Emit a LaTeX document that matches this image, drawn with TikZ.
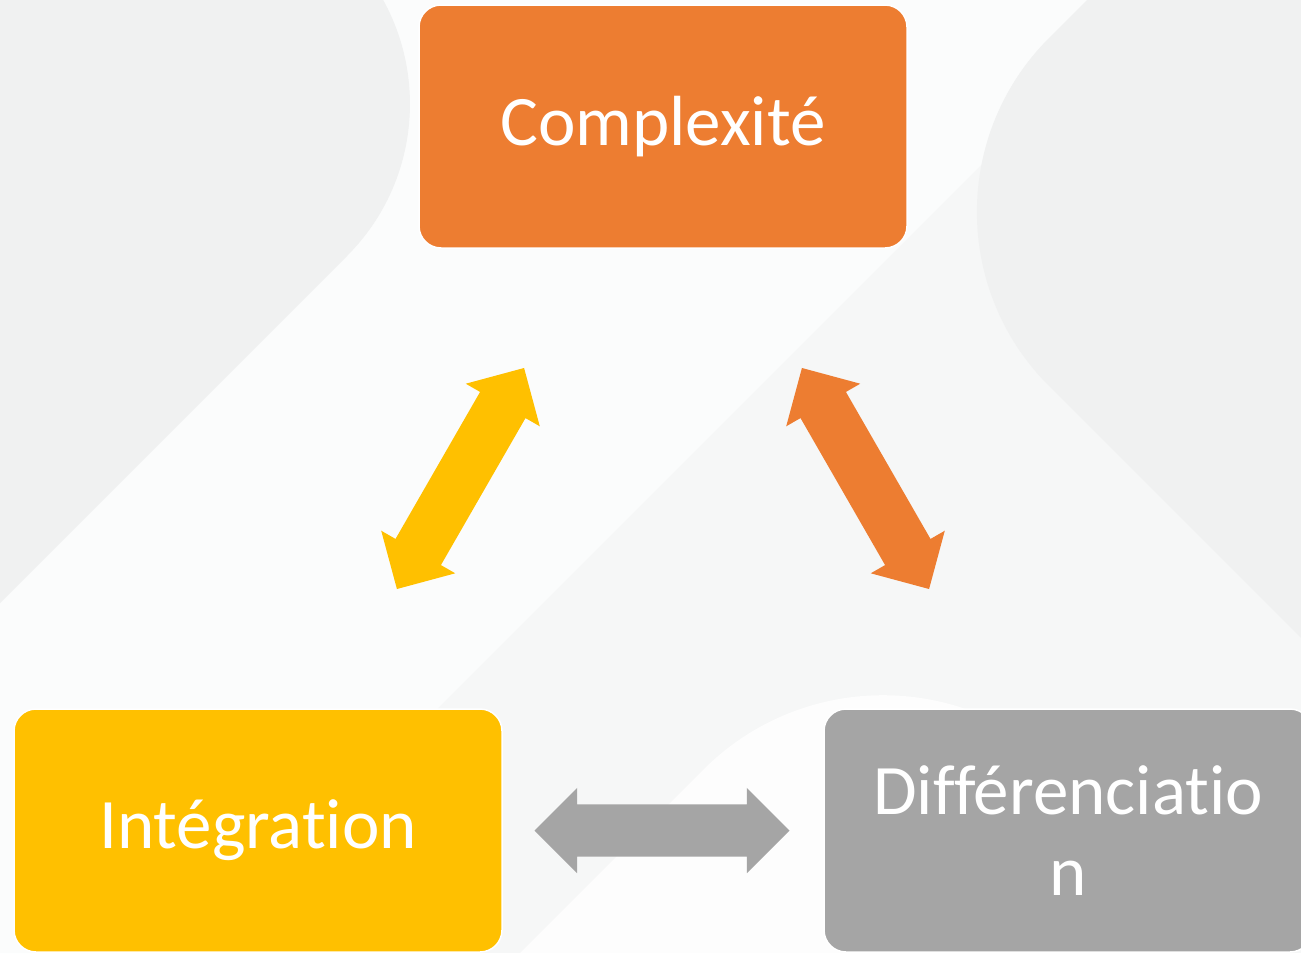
\documentclass[tikz,border=0pt]{standalone}
\usepackage{fontspec}
\setmainfont{Carlito}[Ligatures=NoCommon]
\usetikzlibrary{shapes.arrows}
\definecolor{orangec}{HTML}{ED7D31}
\definecolor{yellowc}{HTML}{FFC000}
\definecolor{greyc}{HTML}{A5A5A5}
\definecolor{bgbase}{HTML}{F6F7F7}
\definecolor{bglight}{HTML}{FBFCFC}
\definecolor{bgshape}{HTML}{F0F1F1}
\definecolor{bgwhite}{HTML}{FDFDFD}
\begin{document}
\begin{tikzpicture}[x=1pt,y=-1pt,
  box/.style={rounded corners=22pt,draw=white,line width=1.5pt,
    minimum width=488pt,minimum height=243pt,text=white,align=center,
    font=\fontsize{71}{81}\selectfont},
  link/.style={shape=double arrow,sloped,inner xsep=0pt,inner ysep=26pt,
    minimum height=255pt,minimum width=85pt,double arrow head extend=16.5pt}]
  \useasboundingbox (0,0) rectangle (1301,953);
  % background
  \begin{scope}
    \clip (0,0) rectangle (1301,953);
    \fill[bgbase] (0,0) rectangle (1301,953);
    \fill[bglight] (0,953) -- (0,0) -- (1146,0) -- (193,953) -- cycle;
    \fill[bgshape] (0,603) [rounded corners=215pt] -- (499,104) [sharp corners] -- (291,-104) -- (0,-104) -- cycle;
    \fill[bgshape] (1301,638) [rounded corners=246pt] -- (875,212) [sharp corners] -- (1087,0) -- (1301,0) -- cycle;
    \fill[bgwhite] (520,953) [rounded corners=254pt] -- (883,590) [sharp corners] -- (1246,953) -- cycle;
  \end{scope}
  % boxes
  \node[box,fill=orangec] (compl) at (663,126.5) {Complexité};
  \node[box,fill=yellowc] (integ) at (258,830.5) {Intégration};
  \node[box,fill=greyc] (diff) at (1068,830.5) {Différenciatio\\n};
  % arrows
  \path (integ.center) -- node[link,fill=yellowc] {} (compl.center);
  \path (compl.center) -- node[link,fill=orangec] {} (diff.center);
  \path (integ.center) -- node[link,fill=greyc,xshift=-1pt] {} (diff.center);
\end{tikzpicture}
\end{document}
